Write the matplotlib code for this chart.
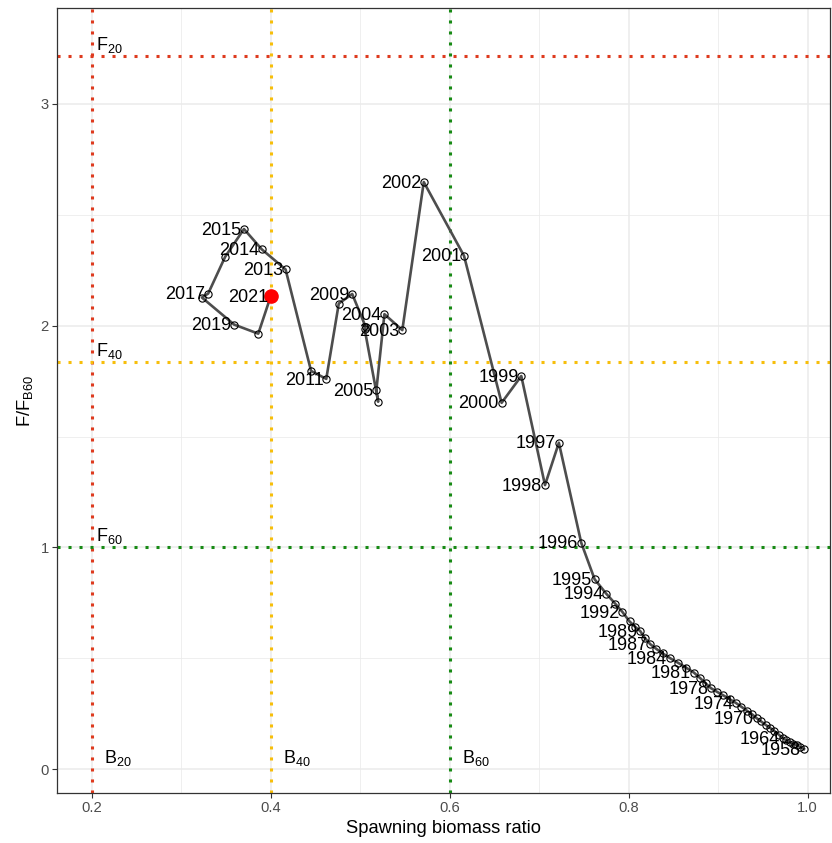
import matplotlib
matplotlib.use("Agg")
import matplotlib.pyplot as plt
from matplotlib.ticker import MultipleLocator
import numpy as np

plt.rcParams['font.family'] = ['Liberation Sans', 'DejaVu Sans']
plt.rcParams['mathtext.fontset'] = 'custom'
plt.rcParams['mathtext.rm'] = 'Liberation Sans'
plt.rcParams['mathtext.it'] = 'Liberation Sans:italic'

# data
years = list(range(1958, 2022))
ssb_ratio = [0.996, 0.992, 0.988, 0.984, 0.980, 0.976, 0.972, 0.968, 0.963, 0.958,
             0.953, 0.948, 0.943, 0.938, 0.932, 0.926, 0.920, 0.913, 0.906, 0.899,
             0.892, 0.886, 0.880, 0.873, 0.864, 0.855, 0.846, 0.838, 0.831, 0.824,
             0.818, 0.813, 0.807, 0.801, 0.793, 0.785, 0.775, 0.762, 0.747, 0.722,
             0.7065, 0.680, 0.658, 0.616, 0.571, 0.547, 0.527, 0.518, 0.520, 0.505,
             0.506, 0.491, 0.476, 0.462, 0.445, 0.4165, 0.390, 0.370, 0.349, 0.330,
             0.323, 0.359, 0.386, 0.400]
f_ratio = [0.090, 0.099, 0.107, 0.115, 0.123, 0.131, 0.140, 0.155, 0.171, 0.186,
           0.200, 0.215, 0.230, 0.247, 0.264, 0.281, 0.298, 0.315, 0.332, 0.348,
           0.365, 0.387, 0.410, 0.435, 0.458, 0.480, 0.501, 0.522, 0.542, 0.564,
           0.592, 0.622, 0.643, 0.666, 0.709, 0.746, 0.791, 0.856, 1.021, 1.472,
           1.281, 1.773, 1.652, 2.315, 2.648, 1.980, 2.052, 1.709, 1.657, 1.983,
           1.995, 2.143, 2.100, 1.760, 1.796, 2.254, 2.344, 2.436, 2.311, 2.145,
           2.127, 2.005, 1.964, 2.134]
label_years = [1958, 1964, 1970, 1974, 1978, 1981, 1984, 1987, 1989, 1992, 1994,
               1995, 1996, 1997, 1998, 1999, 2000, 2001, 2002, 2003, 2004, 2005,
               2009, 2011, 2013, 2014, 2015, 2017, 2019, 2021]

b_refs = [0.2, 0.4, 0.6]
b_names = ["B_{20}", "B_{40}", "B_{60}"]
f_refs = [3.216, 1.836, 1.0]
f_names = ["F_{20}", "F_{40}", "F_{60}"]
ref_colors = ["#DE3A1E", "#F7BE0A", "#178A14"]

fig = plt.figure(figsize=(8.32, 8.43), dpi=100)
ax = fig.add_axes([0.0685, 0.0593, 0.929, 0.9312])

ax.set_xlim(0.161, 1.025)
ax.set_ylim(-0.108, 3.433)
ax.xaxis.set_minor_locator(MultipleLocator(0.1))
ax.yaxis.set_minor_locator(MultipleLocator(0.5))
ax.set_xticks([0.2, 0.4, 0.6, 0.8, 1.0])
ax.set_xticklabels(["0.2", "0.4", "0.6", "0.8", "1.0"])
ax.set_yticks([0, 1, 2, 3])
ax.set_yticklabels(["0", "1", "2", "3"])

ax.grid(which='major', color='#EBEBEB', lw=1.1, zorder=0)
ax.grid(which='minor', color='#EBEBEB', lw=0.55, zorder=0)
ax.set_axisbelow(True)
for s in ax.spines.values():
    s.set_color('#333333')
    s.set_linewidth(0.9)
ax.tick_params(which='major', length=3.5, width=0.8, color='#333333',
               labelsize=10.6, labelcolor='#4D4D4D', pad=2.5)
ax.tick_params(which='minor', length=0)

# reference lines
for b, c in zip(b_refs, ref_colors):
    ax.axvline(b, color=c, lw=2.2, ls=(0, (1, 2.6)), zorder=1)
for f, c in zip(f_refs, ref_colors):
    ax.axhline(f, color=c, lw=2.2, ls=(0, (1, 2.6)), zorder=1)
for b, name in zip(b_refs, b_names):
    ax.text(b + 0.0135, 0.05, r"$\mathregular{" + name + "}$",
            fontsize=13, ha='left', va='center', zorder=3)
for f, name in zip(f_refs, f_names):
    ax.annotate(r"$\mathregular{" + name + "}$", (0.2, f),
                xytext=(3, 1), textcoords='offset points',
                fontsize=13, ha='left', va='bottom', zorder=3)

# trajectory
ax.plot(ssb_ratio, f_ratio, color='#4D4D4D', lw=1.9, zorder=2)
ax.plot(ssb_ratio[:-1], f_ratio[:-1], ls='none', marker='o', ms=5.2,
        mfc='none', mec='black', mew=0.8, zorder=3)
ax.plot(ssb_ratio[-1], f_ratio[-1], ls='none', marker='o', ms=9.5,
        mfc='red', mec='red', zorder=4)

for yr, xv, yv in zip(years, ssb_ratio, f_ratio):
    if yr in label_years:
        ax.annotate(str(yr), (xv, yv), xytext=(-2, -0.8), textcoords='offset points',
                    fontsize=13, ha='right', va='center', zorder=5)

ax.set_xlabel("Spawning biomass ratio", fontsize=13.2, labelpad=3)
ax.set_ylabel(r"$\mathregular{F/F_{B60}}$", fontsize=13.2, labelpad=4)

fig.savefig("out.png", dpi=100)
